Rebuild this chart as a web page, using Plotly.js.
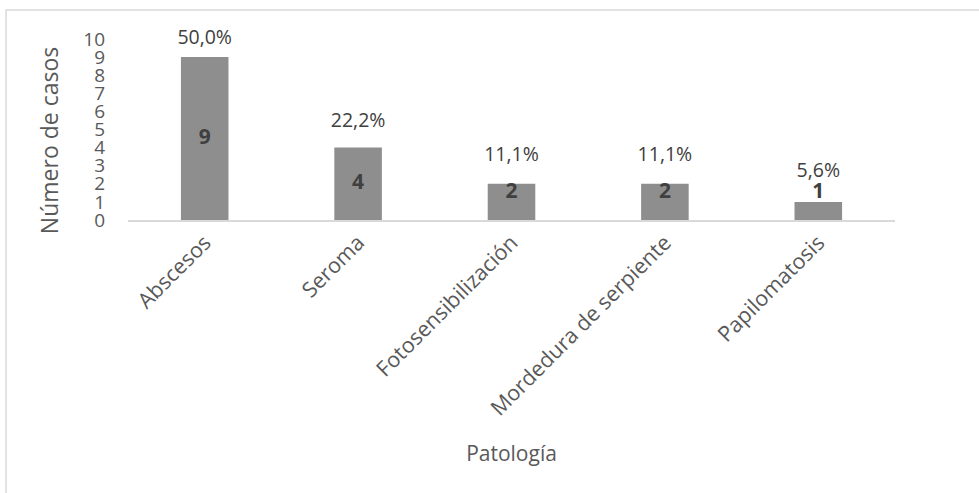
<!DOCTYPE html>
<html>
<head>
<meta charset="utf-8">
<script src="https://cdn.plot.ly/plotly-3.0.1.min.js"></script>
<style>
  html, body { margin: 0; padding: 0; background: #ffffff; }
  #chart { width: 979px; height: 493px; }
</style>
</head>
<body>
<div id="chart"></div>
<script>
// Casos por patología
const categories = ["Abscesos", "Seroma", "Fotosensibilización", "Mordedura de serpiente", "Papilomatosis"];
const counts = [9, 4, 2, 2, 1];
const percentLabels = ["50,0%", "22,2%", "11,1%", "11,1%", "5,6%"];
const percentValues = [50.0, 22.2, 11.1, 11.1, 5.6];
const yTicks = [0, 1, 2, 3, 4, 5, 6, 7, 8, 9, 10];

const FONT = "Open Sans, sans-serif";
const GREY_TEXT = "#595959";
const DARK_TEXT = "#404040";

// Count labels sit in the bar, lifted for short bars so they stay readable
const countLabelY = counts.map(c => Math.max(c / 2, 1.5));

const bars = {
  type: "bar",
  x: categories,
  y: counts,
  marker: { color: "#8e8e8e" },
  width: 0.31,
  hoverinfo: "x+y",
  showlegend: false
};

const countText = {
  type: "scatter",
  mode: "text",
  x: categories,
  y: countLabelY,
  text: counts.map(String),
  textposition: "middle center",
  textfont: { family: FONT, size: 21, color: DARK_TEXT, weight: "bold" },
  cliponaxis: false,
  hoverinfo: "skip",
  showlegend: false
};

// Percentages plotted on their own hidden scale above the bars
const pctText = {
  type: "scatter",
  mode: "text",
  x: categories,
  y: percentValues,
  yaxis: "y2",
  text: percentLabels,
  textposition: "middle center",
  textfont: { family: FONT, size: 19.5, color: DARK_TEXT },
  cliponaxis: false,
  hoverinfo: "skip",
  showlegend: false
};

const layout = {
  width: 979,
  height: 493,
  margin: { l: 128, r: 84, t: 39, b: 273 },
  paper_bgcolor: "#ffffff",
  plot_bgcolor: "#ffffff",
  font: { family: FONT, color: GREY_TEXT },
  xaxis: {
    type: "category",
    tickangle: -45,
    tickfont: { family: FONT, size: 21.5, color: GREY_TEXT },
    showline: true,
    linecolor: "#d9d9d9",
    linewidth: 1.5,
    ticks: "",
    showgrid: false,
    zeroline: false,
    title: { text: "Patología", font: { family: FONT, size: 21, color: GREY_TEXT }, standoff: 26 }
  },
  yaxis: {
    range: [0, 10],
    tickvals: yTicks,
    ticktext: yTicks.map(String),
    tickfont: { family: FONT, size: 19, color: GREY_TEXT },
    showgrid: false,
    zeroline: false,
    showline: false,
    ticks: "",
    ticklabelstandoff: 22
  },
  yaxis2: {
    overlaying: "y",
    range: [-10.2, 50],
    visible: false,
    showgrid: false,
    zeroline: false
  },
  annotations: [{
    text: "Número de casos",
    textangle: -90,
    xref: "paper", yref: "paper",
    x: -0.102, y: 0.44,
    xanchor: "center", yanchor: "middle",
    showarrow: false,
    font: { family: FONT, size: 23, color: GREY_TEXT }
  }],
  shapes: [{
    type: "rect",
    xref: "paper", yref: "paper",
    x0: -0.159, x1: 1.2,
    y0: -1.6, y1: 1.16,
    line: { color: "#d9d9d9", width: 1.5 },
    fillcolor: "rgba(0,0,0,0)",
    layer: "below"
  }]
};

Plotly.newPlot("chart", [bars, countText, pctText], layout, { displayModeBar: false, staticPlot: true });
</script>
</body>
</html>
